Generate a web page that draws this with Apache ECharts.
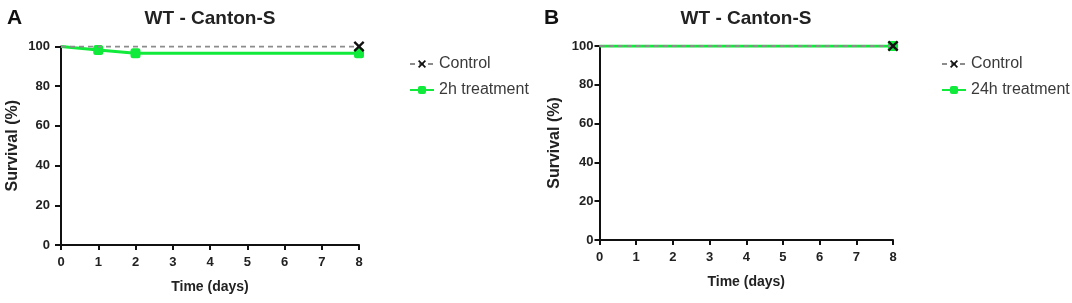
<!DOCTYPE html>
<html>
<head>
<meta charset="utf-8">
<script src="https://cdn.jsdelivr.net/npm/echarts@6/dist/echarts.min.js"></script>
<style>
html,body{margin:0;padding:0;background:#fff;}
#c{width:1072px;height:303px;}
</style>
</head>
<body>
<div id="c"></div>
<script>
// Data
const panelLetters = ['A', 'B'];
const panelTitles = ['WT - Canton-S', 'WT - Canton-S'];
const xTicks = [0, 1, 2, 3, 4, 5, 6, 7, 8];
const yTicks = [0, 20, 40, 60, 80, 100];
const seriesNamesA = ['Control', '2h treatment'];
const seriesNamesB = ['Control', '24h treatment'];
const controlA = [[0, 100], [8, 100]];
const treatA = [[0, 100], [1, 98.2], [2, 96.6], [8, 96.6]];
const controlB = [[0, 100], [8, 100]];
const treatB = [[0, 100], [8, 100]];

const XSYM = 'path://M0,1.5 L1.5,0 L5,3.5 L8.5,0 L10,1.5 L6.5,5 L10,8.5 L8.5,10 L5,6.5 L1.5,10 L0,8.5 L3.5,5 Z';
const font = 'Liberation Sans, Arial, sans-serif';
const green = '#10ea3a';

const grids = [
  {left: 61, top: 46.5, width: 298, height: 198.5},
  {left: 599.5, top: 46, width: 293.5, height: 194}
];
const yNameGaps = [40, 36.5];
const yLabelMargins = [11, 6];
const yTickLens = [6, 5];

function xAxis(i) {
  return {
    type: 'value', gridIndex: i, min: 0, max: 8, interval: 1,
    name: 'Time (days)', nameLocation: 'middle', nameGap: 35,
    nameTextStyle: {fontFamily: font, fontWeight: 'bold', fontSize: 14, color: '#222'},
    axisLine: {show: true, onZero: false, lineStyle: {color: '#111', width: 2}},
    axisTick: {show: true, length: 5, lineStyle: {color: '#111', width: 2}},
    axisLabel: {fontFamily: font, fontWeight: 'bold', fontSize: 13, color: '#222', margin: 11},
    splitLine: {show: false}
  };
}
function yAxis(i) {
  return {
    type: 'value', gridIndex: i, min: 0, max: 100, interval: 20,
    name: 'Survival (%)', nameLocation: 'middle', nameGap: yNameGaps[i], nameRotate: 90,
    nameTextStyle: {fontFamily: font, fontWeight: 'bold', fontSize: 16, color: '#222'},
    axisLine: {show: true, onZero: false, lineStyle: {color: '#111', width: 2}},
    axisTick: {show: true, length: yTickLens[i], lineStyle: {color: '#111', width: 2}},
    axisLabel: {fontFamily: font, fontWeight: 'bold', fontSize: 13, color: '#222', margin: yLabelMargins[i]},
    splitLine: {show: false}
  };
}
function pts(arr, sym) {
  return arr.map((p, k) => k === 0 ? {value: p, symbol: 'none'} : {value: p, symbol: sym});
}
function ctrl(name, data, i) {
  return {
    name: name, type: 'line', xAxisIndex: i, yAxisIndex: i, z: 5,
    symbol: XSYM, symbolSize: 11, silent: true, animation: false,
    data: pts(data, XSYM),
    lineStyle: {color: '#8c8c8c', width: 2, type: [5, 4]},
    itemStyle: {color: '#111'}
  };
}
function treat(name, data, i) {
  return {
    name: name, type: 'line', xAxisIndex: i, yAxisIndex: i, z: 3,
    symbol: 'roundRect', symbolSize: 10, silent: true, animation: false,
    data: pts(data, 'roundRect'),
    lineStyle: {color: green, width: 3},
    itemStyle: {color: green}
  };
}

const legendText = {fontFamily: font, fontSize: 16, color: '#3a3a3a'};

const option = {
  backgroundColor: '#fff',
  animation: false,
  title: [
    {text: panelLetters[0], left: 2, top: 3, textStyle: {fontFamily: font, fontWeight: 'bold', fontSize: 21, color: '#111'}},
    {text: panelLetters[1], left: 539, top: 3, textStyle: {fontFamily: font, fontWeight: 'bold', fontSize: 21, color: '#111'}},
    {text: panelTitles[0], left: 205, textAlign: 'center', top: 4, textStyle: {fontFamily: font, fontWeight: 'bold', fontSize: 19, color: '#222'}},
    {text: panelTitles[1], left: 741, textAlign: 'center', top: 4, textStyle: {fontFamily: font, fontWeight: 'bold', fontSize: 19, color: '#222'}}
  ],
  grid: grids,
  xAxis: [xAxis(0), xAxis(1)],
  yAxis: [yAxis(0), yAxis(1)],
  legend: [
    {data: seriesNamesA, orient: 'vertical', left: 404, top: 51, itemWidth: 24, itemHeight: 10, itemGap: 10, textStyle: legendText},
    {data: seriesNamesB, orient: 'vertical', left: 936, top: 51, itemWidth: 24, itemHeight: 10, itemGap: 10, textStyle: legendText}
  ],
  series: [
    treat(seriesNamesA[1], treatA, 0),
    ctrl(seriesNamesA[0], controlA, 0),
    treat(seriesNamesB[1], treatB, 1),
    ctrl(seriesNamesB[0], controlB, 1)
  ]
};
const chart = echarts.init(document.getElementById('c'), null, {renderer: 'canvas'});
chart.setOption(option);
</script>
</body>
</html>
